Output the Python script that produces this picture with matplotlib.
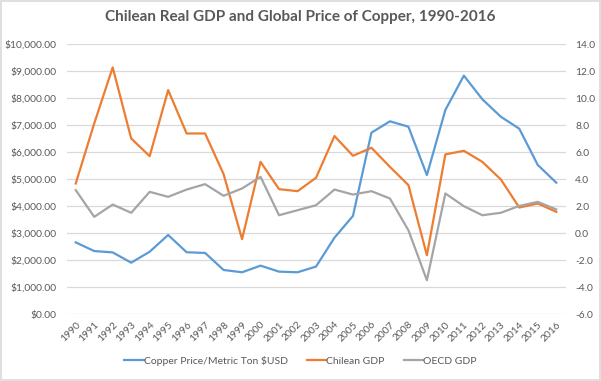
import matplotlib
matplotlib.use("Agg")
import matplotlib.pyplot as plt
from matplotlib.patches import Rectangle
from matplotlib.ticker import FuncFormatter, MultipleLocator

years = list(range(1990, 2017))
copper_price = [2660, 2340, 2290, 1910, 2315, 2935, 2295, 2270, 1640, 1555,
                1800, 1578, 1555, 1765, 2835, 3640, 6720, 7140, 6940, 5150,
                7560, 8830, 7955, 7310, 6865, 5525, 4870]
chile_gdp = [3.68, 8.12, 12.27, 7.01, 5.70, 10.59, 7.38, 7.38, 4.37, -0.44,
             5.28, 3.26, 3.11, 4.10, 7.19, 5.73, 6.32, 4.91, 3.56, -1.63,
             5.83, 6.10, 5.28, 3.98, 1.90, 2.20, 1.58]
oecd_gdp = [3.19, 1.21, 2.12, 1.51, 3.06, 2.69, 3.23, 3.63, 2.77, 3.31,
            4.17, 1.33, 1.70, 2.07, 3.23, 2.86, 3.11, 2.57, 0.22, -3.48,
            2.94, 2.00, 1.33, 1.51, 2.02, 2.32, 1.76]

BLUE, ORANGE, GRAY = "#5B9BD5", "#ED7D31", "#A5A5A5"
TXT = "#595959"
FONT = "Lato"

fig = plt.figure(figsize=(6.01, 3.81), dpi=100)
W, H = 601, 381
ax = fig.add_axes([66.5 / W, 1 - 314.3 / H, (565.5 - 66.5) / W, (314.3 - 44) / H])
ax2 = ax.twinx()

ax.set_xlim(1989.5, 2016.5)
ax.set_ylim(0, 10000)
ax2.set_ylim(-6, 14)
ax.yaxis.set_major_locator(MultipleLocator(1000))
ax2.yaxis.set_major_locator(MultipleLocator(2))
ax.yaxis.set_major_formatter(FuncFormatter(lambda v, p: "${:,.2f}".format(v)))
ax2.yaxis.set_major_formatter(FuncFormatter(lambda v, p: "{:.1f}".format(v)))

ax.grid(axis="y", color="#D9D9D9", linewidth=0.9)
ax.set_axisbelow(True)
for a in (ax, ax2):
    for s in a.spines.values():
        s.set_visible(False)
    a.tick_params(length=0, colors=TXT, labelsize=7.4)
    for lab in a.get_yticklabels():
        lab.set_fontfamily(FONT)
ax.tick_params(axis="y", pad=7)
ax2.tick_params(axis="y", pad=7)

ax.set_xticks(years)
ax.set_xticklabels([str(y) for y in years], rotation=45, ha="right",
                   rotation_mode="anchor", fontfamily=FONT, fontsize=7.4, color=TXT)
ax.tick_params(axis="x", pad=4)

l1, = ax.plot(years, copper_price, color=BLUE, lw=1.6, label="Copper Price/Metric Ton $USD")
l2, = ax2.plot(years, chile_gdp, color=ORANGE, lw=1.6, label="Chilean GDP")
l3, = ax2.plot(years, oecd_gdp, color=GRAY, lw=1.6, label="OECD GDP")

leg = fig.legend(handles=[l1, l2, l3], loc="center", bbox_to_anchor=(0.5, 1 - 361 / H),
                 ncol=3, frameon=False, handlelength=1.9, handletextpad=0.0,
                 columnspacing=1.8, prop={"family": FONT, "size": 7.5})
for t in leg.get_texts():
    t.set_color(TXT)

fig.text(0.5, 1 - 17 / H, "Chilean Real GDP and Global Price of Copper, 1990-2016",
         ha="center", va="center", fontsize=11, fontweight="bold", fontfamily=FONT, color=TXT)

fig.patches.append(Rectangle((1 / W, 1 / H), 1 - 2 / W, 1 - 2 / H, transform=fig.transFigure,
                             fill=False, edgecolor="#D9D9D9", linewidth=1.2))

fig.savefig("out.png", dpi=100)
